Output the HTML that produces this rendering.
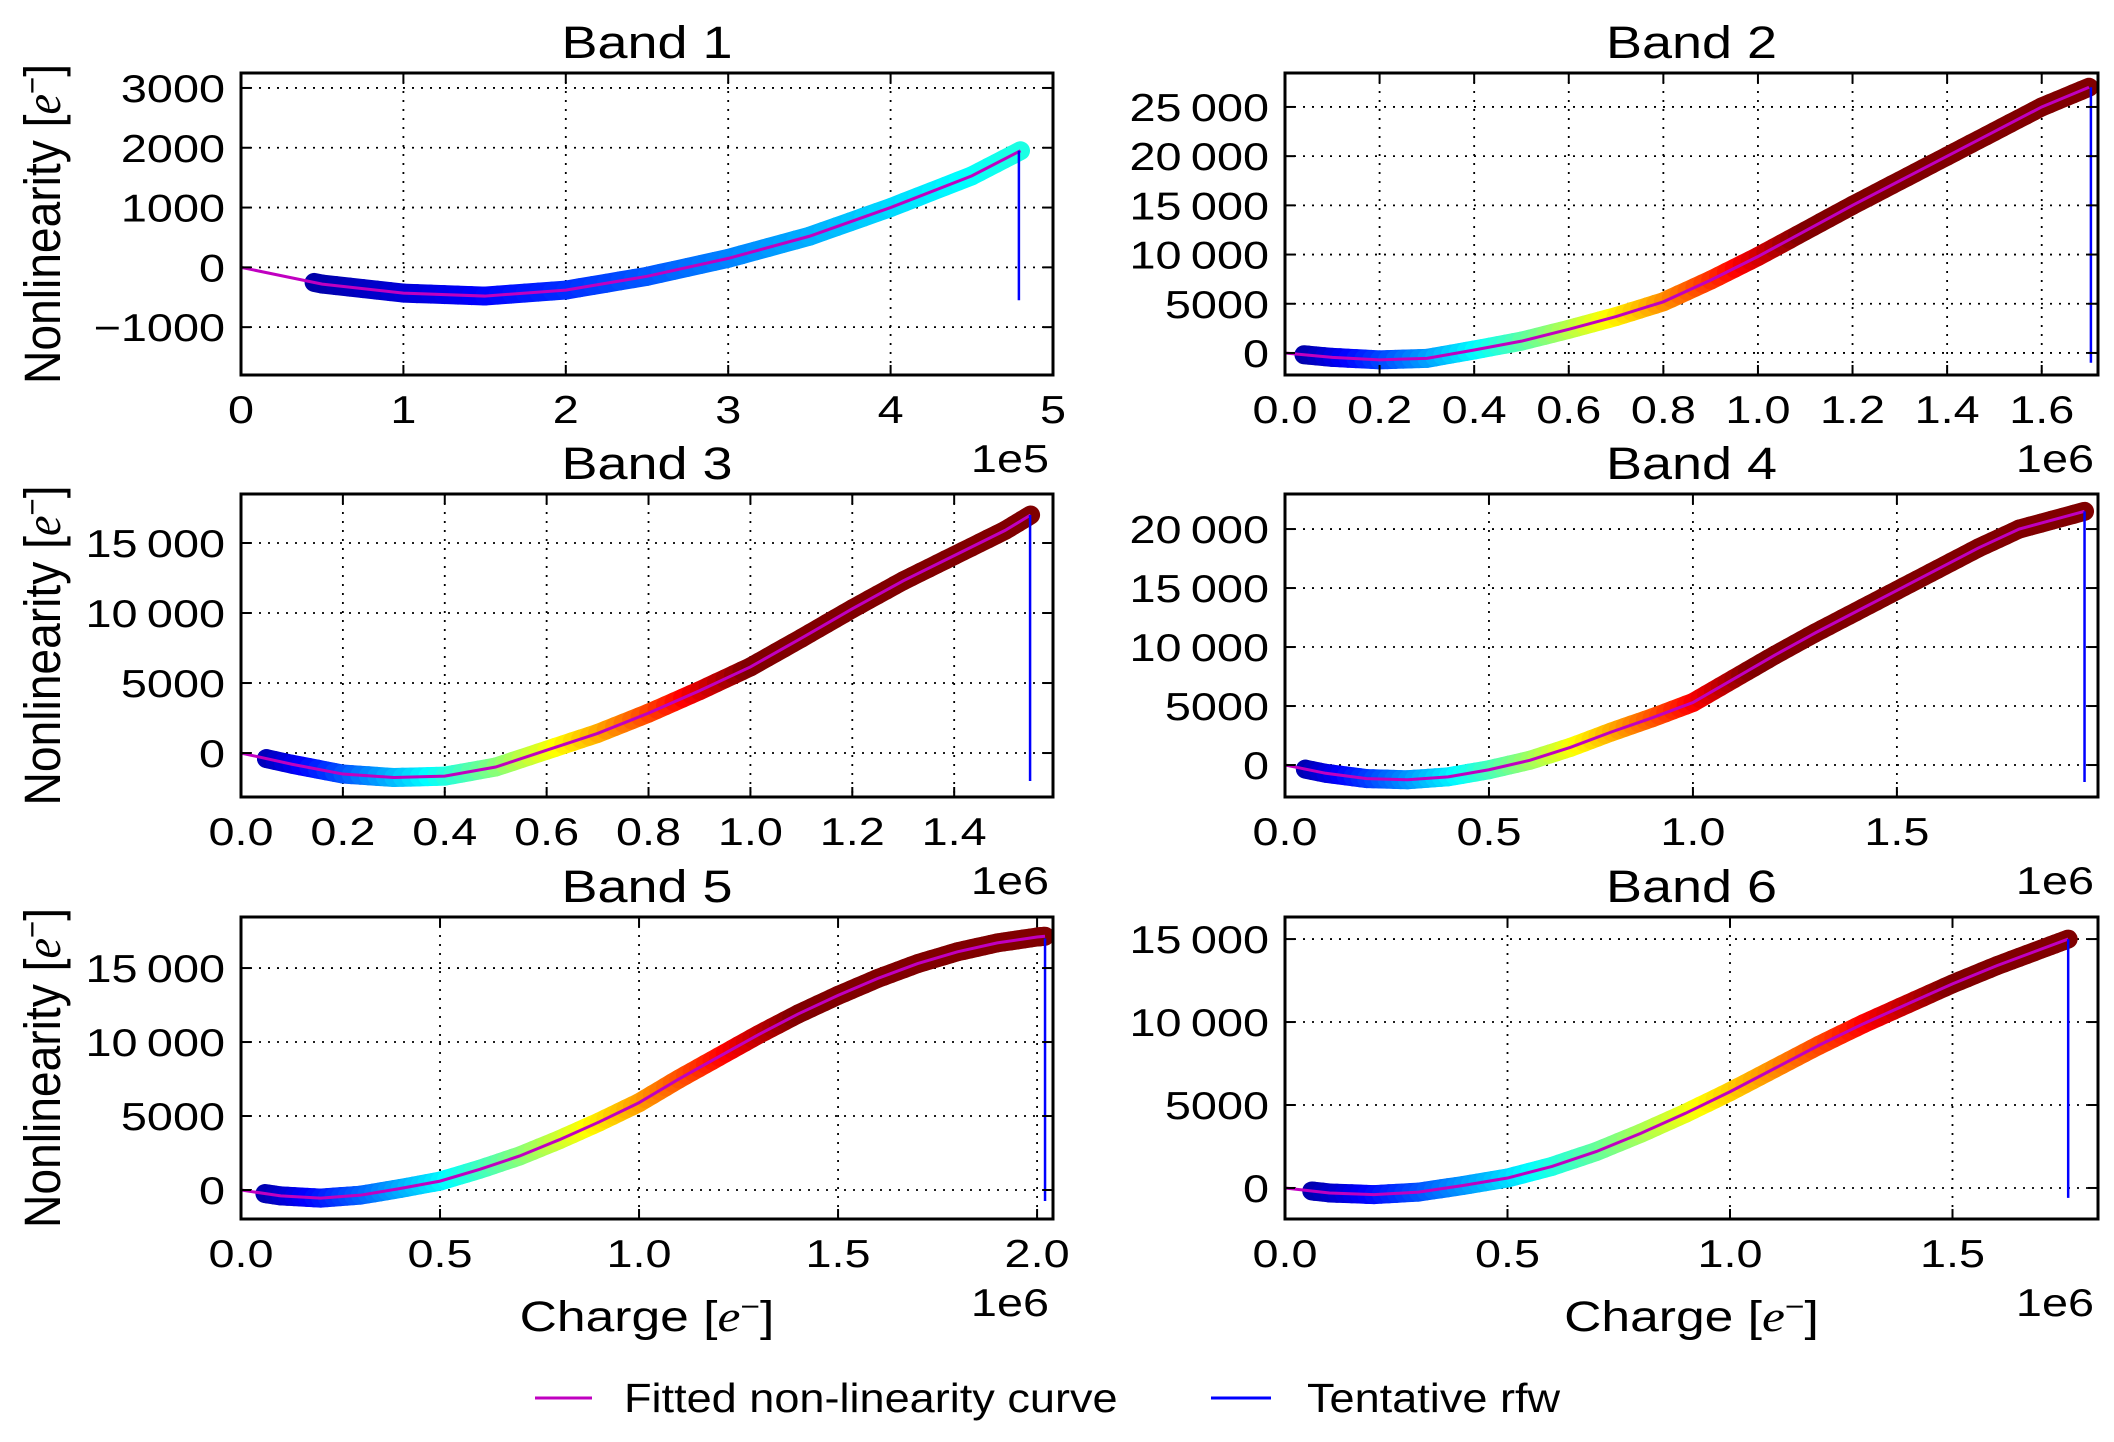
<!DOCTYPE html>
<html><head><meta charset="utf-8"><style>
html,body{margin:0;padding:0;background:#fff;}
svg{display:block;font-family:"Liberation Sans","DejaVu Sans",sans-serif;}
</style></head><body>
<svg id="fig" xmlns="http://www.w3.org/2000/svg" width="2114" height="1442" viewBox="0 0 2114 1442"></svg>
<script>
// ---- data (charge in units of the axis multiplier, nonlinearity in e-) ----
const band1X = [0,0.5,1,1.5,2,2.5,3,3.5,4,4.5,4.8];
const band1Y = [0,-280,-430,-480,-380,-150,150,520,1000,1530,1950];
const band2X = [0,0.1,0.2,0.3,0.4,0.5,0.6,0.7,0.8,0.9,1.0,1.1,1.2,1.3,1.4,1.5,1.6,1.7];
const band2Y = [0,-450,-700,-550,300,1200,2400,3700,5200,7400,9800,12400,15000,17500,20000,22500,25000,27000];
const band3X = [0,0.1,0.2,0.3,0.4,0.5,0.6,0.7,0.8,0.9,1.0,1.1,1.2,1.3,1.4,1.5,1.55];
const band3Y = [0,-800,-1500,-1750,-1650,-1000,200,1400,2850,4450,6150,8200,10300,12300,14100,15900,17000];
const band4X = [0,0.1,0.2,0.3,0.4,0.5,0.6,0.7,0.8,0.9,1.0,1.1,1.2,1.3,1.4,1.5,1.6,1.7,1.8,1.96];
const band4Y = [0,-700,-1150,-1250,-1000,-400,400,1500,2800,4000,5300,7300,9300,11200,13000,14800,16600,18400,20000,21500];
const band5X = [0,0.1,0.2,0.3,0.4,0.5,0.6,0.7,0.8,0.9,1.0,1.1,1.2,1.3,1.4,1.5,1.6,1.7,1.8,1.9,2.0,2.02];
const band5Y = [0,-400,-550,-350,100,600,1400,2300,3400,4600,5900,7500,9000,10500,11900,13150,14300,15300,16100,16700,17100,17150];
const band6X = [0,0.1,0.2,0.3,0.4,0.5,0.6,0.7,0.8,0.9,1.0,1.1,1.2,1.3,1.4,1.5,1.6,1.7,1.76];
const band6Y = [0,-300,-400,-250,150,600,1300,2200,3300,4500,5800,7200,8600,9900,11100,12300,13400,14400,15000];
// tentative rfw: [x, yTop, yBottom]
const rfw1 = [4.79,1950,-550];
const rfw2 = [1.704,27000,-1000];
const rfw3 = [1.549,17000,-2000];
const rfw4 = [1.96,21500,-1440];
const rfw5 = [2.02,17000,-740];
const rfw6 = [1.76,15000,-600];
// tick values and labels
const band1XTicks = [0,1,2,3,4,5];
const band1XLabels = ["0","1","2","3","4","5"];
const band1YTicks = [-1000,0,1000,2000,3000];
const band1YLabels = ["\u22121000","0","1000","2000","3000"];
const band2XTicks = [0,0.2,0.4,0.6,0.8,1.0,1.2,1.4,1.6];
const band2XLabels = ["0.0","0.2","0.4","0.6","0.8","1.0","1.2","1.4","1.6"];
const band2YTicks = [0,5000,10000,15000,20000,25000];
const band2YLabels = ["0","5000","10\u2009000","15\u2009000","20\u2009000","25\u2009000"];
const band3XTicks = [0,0.2,0.4,0.6,0.8,1.0,1.2,1.4];
const band3XLabels = ["0.0","0.2","0.4","0.6","0.8","1.0","1.2","1.4"];
const band3YTicks = [0,5000,10000,15000];
const band3YLabels = ["0","5000","10\u2009000","15\u2009000"];
const band4XTicks = [0,0.5,1.0,1.5];
const band4XLabels = ["0.0","0.5","1.0","1.5"];
const band4YTicks = [0,5000,10000,15000,20000];
const band4YLabels = ["0","5000","10\u2009000","15\u2009000","20\u2009000"];
const band5XTicks = [0,0.5,1.0,1.5,2.0];
const band5XLabels = ["0.0","0.5","1.0","1.5","2.0"];
const band5YTicks = [0,5000,10000,15000];
const band5YLabels = ["0","5000","10\u2009000","15\u2009000"];
const band6XTicks = [0,0.5,1.0,1.5];
const band6XLabels = ["0.0","0.5","1.0","1.5"];
const band6YTicks = [0,5000,10000,15000];
const band6YLabels = ["0","5000","10\u2009000","15\u2009000"];

// ---- layout ----
const panels = [
 {n:1,x0:241,x1:1053,y0:73,y1:375,xmin:0,xmax:5.0,ymin:-1800,ymax:3250,X:band1X,Y:band1Y,rfw:rfw1,xt:band1XTicks,xl:band1XLabels,yt:band1YTicks,yl:band1YLabels,mult:"1e5",cs:0.42/5,start:0.45,left:true,bottom:false},
 {n:2,x0:1285,x1:2098,y0:73,y1:375,xmin:0,xmax:1.719,ymin:-2240,ymax:28450,X:band2X,Y:band2Y,rfw:rfw2,xt:band2XTicks,xl:band2XLabels,yt:band2YTicks,yl:band2YLabels,mult:"1e6",cs:1/1.1,start:0.04,left:false,bottom:false},
 {n:3,x0:241,x1:1053,y0:494,y1:797,xmin:0,xmax:1.594,ymin:-3140,ymax:18500,X:band3X,Y:band3Y,rfw:rfw3,xt:band3XTicks,xl:band3XLabels,yt:band3YTicks,yl:band3YLabels,mult:"1e6",cs:1/1.0,start:0.05,left:true,bottom:false},
 {n:4,x0:1285,x1:2098,y0:494,y1:797,xmin:0,xmax:1.993,ymin:-2710,ymax:22970,X:band4X,Y:band4Y,rfw:rfw4,xt:band4XTicks,xl:band4XLabels,yt:band4YTicks,yl:band4YLabels,mult:"1e6",cs:1/1.15,start:0.05,left:false,bottom:false},
 {n:5,x0:241,x1:1053,y0:917,y1:1219,xmin:0,xmax:2.04,ymin:-1960,ymax:18450,X:band5X,Y:band5Y,rfw:rfw5,xt:band5XTicks,xl:band5XLabels,yt:band5YTicks,yl:band5YLabels,mult:"1e6",cs:1/1.4,start:0.06,left:true,bottom:true},
 {n:6,x0:1285,x1:2098,y0:917,y1:1219,xmin:0,xmax:1.827,ymin:-1870,ymax:16330,X:band6X,Y:band6Y,rfw:rfw6,xt:band6XTicks,xl:band6XLabels,yt:band6YTicks,yl:band6YLabels,mult:"1e6",cs:1/1.5,start:0.06,left:false,bottom:true}
];
const NS="http://www.w3.org/2000/svg";
const svg=document.getElementById('fig');
function mk(tag,attrs,parent){const e=document.createElementNS(NS,tag);for(const k in attrs)e.setAttribute(k,attrs[k]);(parent||svg).appendChild(e);return e;}
function txt(x,y,anchor,size,parent,sxf){const s=sxf||1.2;return mk('text',{x:0,y:0,'text-anchor':anchor,'font-size':size,transform:`translate(${x},${y}) scale(${s},1)`},parent);}
function jet(t){t=Math.max(0,Math.min(1,t));const c=v=>Math.round(255*Math.max(0,Math.min(1,v)));
 return `rgb(${c(1.5-Math.abs(4*t-3))},${c(1.5-Math.abs(4*t-2))},${c(1.5-Math.abs(4*t-1))})`;}

panels.forEach(p=>{
 const g=mk('g',{});
 
 
 const sx=v=>p.x0+(v-p.xmin)/(p.xmax-p.xmin)*(p.x1-p.x0);
 const sy=v=>p.y1-(v-p.ymin)/(p.ymax-p.ymin)*(p.y1-p.y0);
 const clip=mk('clipPath',{id:'c'+p.n},g);
 mk('rect',{x:p.x0,y:p.y0,width:p.x1-p.x0,height:p.y1-p.y0},clip);
 p.xt.forEach(v=>{const l=mk('line',{x1:sx(v),x2:sx(v),y1:p.y0,y2:p.y1,stroke:'#000','stroke-width':1.8,'stroke-dasharray':'2,7'},g);
  });
 p.yt.forEach(v=>{const l=mk('line',{x1:p.x0,x2:p.x1,y1:sy(v),y2:sy(v),stroke:'#000','stroke-width':1.8,'stroke-dasharray':'2,7'},g);
  });
 const sg=mk('g',{'clip-path':`url(#c${p.n})`},g);
 
 for(let i=0;i<p.X.length-1;i++){
  const N=6;
  for(let k=0;k<N;k++){
   const a=k/N,b=(k+1)/N;
   const xa=p.X[i]+(p.X[i+1]-p.X[i])*a, xb=p.X[i]+(p.X[i+1]-p.X[i])*b;
   if(xb<p.start) continue;
   const ya=p.Y[i]+(p.Y[i+1]-p.Y[i])*a, yb=p.Y[i]+(p.Y[i+1]-p.Y[i])*b;
   const xs=Math.max(xa,p.start), ys=ya+(yb-ya)*((xs-xa)/(xb-xa||1));
   const seg=mk('line',{x1:sx(xs),y1:sy(ys),x2:sx(xb),y2:sy(yb),stroke:jet(((xs+xb)/2)*p.cs),'stroke-width':19,'stroke-linecap':'round'},sg);
   
  }
 }
 const fit=mk('polyline',{points:p.X.map((x,i)=>sx(x)+','+sy(p.Y[i])).join(' '),fill:'none',stroke:'#c000c0','stroke-width':3,'clip-path':`url(#c${p.n})`},g);
 
 const rl=mk('line',{x1:sx(p.rfw[0]),x2:sx(p.rfw[0]),y1:sy(p.rfw[1]),y2:sy(p.rfw[2]),stroke:'#0000ff','stroke-width':2.5},g);
 
 p.xt.forEach((v,i)=>{
  mk('line',{x1:sx(v),x2:sx(v),y1:p.y0,y2:p.y0+10,stroke:'#000','stroke-width':2},g);
  mk('line',{x1:sx(v),x2:sx(v),y1:p.y1,y2:p.y1-10,stroke:'#000','stroke-width':2},g);
  const t=txt(sx(v),p.y1+48,'middle',39,g);t.textContent=p.xl[i];
  
 });
 p.yt.forEach((v,i)=>{
  mk('line',{x1:p.x0,x2:p.x0+10,y1:sy(v),y2:sy(v),stroke:'#000','stroke-width':2},g);
  mk('line',{x1:p.x1,x2:p.x1-10,y1:sy(v),y2:sy(v),stroke:'#000','stroke-width':2},g);
  const t=txt(p.x0-16,sy(v)+14,'end',39,g);t.textContent=p.yl[i];
  
 });
 const fr=mk('rect',{x:p.x0,y:p.y0,width:p.x1-p.x0,height:p.y1-p.y0,fill:'none',stroke:'#000','stroke-width':3},g);
 
 const tt=txt((p.x0+p.x1)/2,p.y0-15,'middle',45,g);tt.textContent='Band '+p.n;
 
 const mu=txt(p.x1-4,p.y1+97,'end',39,g);mu.textContent=p.mult;
 
 if(p.left){
  const cy=(p.y0+p.y1)/2;
  const yl=mk('text',{x:0,y:0,'text-anchor':'middle','font-size':44,transform:`translate(60,${cy}) rotate(-90) scale(1.05,1.15)`},g);
  yl.innerHTML='Nonlinearity [<tspan font-style="italic" font-family="Liberation Serif, serif">e</tspan><tspan dy="-15" font-size="28">\u2212</tspan><tspan dy="15">]</tspan>';
  
 }
 if(p.bottom){
  const xl=txt((p.x0+p.x1)/2,p.y1+112,'middle',43,g);
  xl.innerHTML='Charge [<tspan font-style="italic" font-family="Liberation Serif, serif">e</tspan><tspan dy="-15" font-size="28">\u2212</tspan><tspan dy="15">]</tspan>';
  
 }
});
const lg=mk('g',{});

const l1=mk('line',{x1:535,x2:592,y1:1398,y2:1398,stroke:'#c000c0','stroke-width':3},lg);

const t1=txt(624,1412,'start',41,lg,1.1);t1.textContent='Fitted non-linearity curve';

const l2=mk('line',{x1:1211,x2:1271,y1:1398,y2:1398,stroke:'#0000ff','stroke-width':3},lg);

const t2=txt(1307,1412,'start',41,lg,1.1);t2.textContent='Tentative rfw';

</script>
</body></html>
